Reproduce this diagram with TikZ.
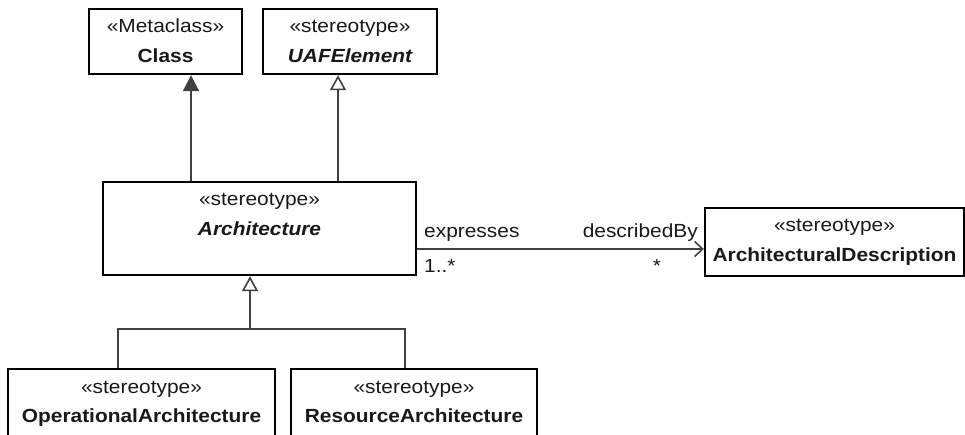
\documentclass[tikz,border=0pt]{standalone}
\usepackage{fontspec}
\setmainfont{Liberation Sans}[FakeStretch=1.1]
\usetikzlibrary{arrows.meta}
\begin{document}
\begin{tikzpicture}[x=1pt,y=-1pt,
  umlbox/.style={draw=black, line width=2.4pt, fill=white, rectangle, inner sep=0pt},
  txt/.style={anchor=base, inner sep=0pt, text=black!90, font=\fontsize{19}{22}\selectfont},
  conn/.style={draw=black!75, line width=2pt},
  genopen/.style={conn, -{Triangle[open, length=15pt, width=16pt, line width=1.6pt, fill=white]}},
  genfill/.style={conn, -{Triangle[length=16pt, width=16pt]}},
  assoc/.style={conn, -{Straight Barb[length=8pt, width=15pt, line width=1.6pt]}}
]
\useasboundingbox (0,0) rectangle (965,434);
% boxes
\node[umlbox, minimum width=153pt, minimum height=65pt] (class) at (165.5,41.5) {};
\node[umlbox, minimum width=174pt, minimum height=65pt] (uaf) at (350,41.5) {};
\node[umlbox, minimum width=313pt, minimum height=93pt] (arch) at (259.5,228.5) {};
\node[umlbox, minimum width=259pt, minimum height=68pt] (desc) at (834.5,242) {};
\node[umlbox, minimum width=267pt, minimum height=76pt] (oparch) at (141.5,407) {};
\node[umlbox, minimum width=246pt, minimum height=76pt] (resarch) at (414,407) {};
% texts
\node[txt] (t1) at (class.north |- 0,32) {«Metaclass»};
\node[txt] (t2) at (class.north |- 0,62) {\bfseries Class};
\node[txt] (t3) at (uaf.north |- 0,32) {«stereotype»};
\node[txt] (t4) at (uaf.north |- 0,62) {\bfseries\itshape UAFElement};
\node[txt] (t5) at (arch.north |- 0,205) {«stereotype»};
\node[txt] (t6) at (arch.north |- 0,235) {\bfseries\itshape Architecture};
\node[txt] (t7) at (desc.north |- 0,231) {«stereotype»};
\node[txt] (t8) at (desc.north |- 0,261) {\bfseries ArchitecturalDescription};
\node[txt] (t9) at (oparch.north |- 0,393) {«stereotype»};
\node[txt] (t10) at (oparch.north |- 0,422) {\bfseries OperationalArchitecture};
\node[txt] (t11) at (resarch.north |- 0,393) {«stereotype»};
\node[txt] (t12) at (resarch.north |- 0,422) {\bfseries ResourceArchitecture};
% connectors
\coordinate (ca) at (191,0);
\coordinate (ua) at (338,0);
\draw[genfill] (arch.north -| ca) -- (class.south -| ca);
\draw[genopen] (arch.north -| ua) -- (uaf.south -| ua);
\coordinate (ay) at (0,249);
\draw[assoc] (arch.east |- ay) -- (desc.west |- ay);
\node[txt, anchor=base west] (l1) at (424,237) {expresses};
\node[txt, anchor=base west] (l2) at (424,272) {1..*};
\node[txt, anchor=base east] (l3) at (698,237) {describedBy};
\node[txt] (l4) at (657,272) {*};
\coordinate (j) at (250,329);
\coordinate (jl) at (118,329);
\coordinate (jr) at (405,329);
\draw[conn] (oparch.north -| jl) -- (jl) -- (jr) -- (resarch.north -| jr);
\draw[genopen] (j) -- (arch.south -| j);
\end{tikzpicture}
\end{document}
